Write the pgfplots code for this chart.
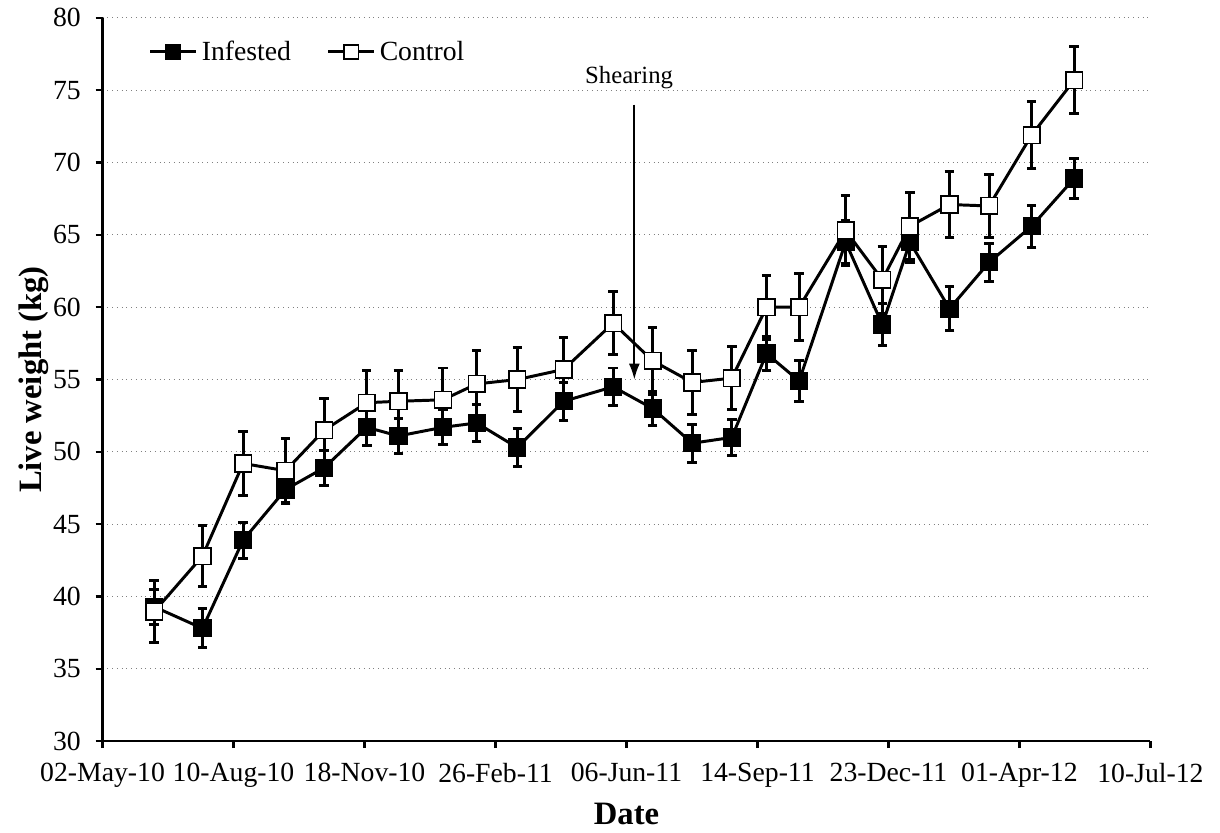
\documentclass[border={6pt 1pt 5pt 1pt}]{standalone}
\usepackage{fontspec}
\setmainfont{Liberation Serif}
\usepackage{pgfplots}
\pgfplotsset{compat=1.18}
\usepackage{pgfplotstable}
\usetikzlibrary{arrows.meta}

\pgfplotstableread{
day inf infe con cone
39.3 39.3 1.2 38.95 2.15
76.3 37.8 1.35 42.8 2.1
107.3 43.9 1.25 49.2 2.2
139.7 47.4 1.0 48.7 2.2
169.2 48.9 1.2 51.5 2.2
201.7 51.7 1.25 53.4 2.2
225.9 51.1 1.2 53.5 2.1
259.9 51.7 1.2 53.6 2.2
285.6 52.0 1.25 54.7 2.3
316.6 50.3 1.3 55.0 2.2
352.0 53.5 1.3 55.7 2.2
389.8 54.5 1.3 58.9 2.2
420.0 53.0 1.2 56.3 2.3
450.2 50.6 1.3 54.8 2.2
480.4 51.0 1.25 55.1 2.2
506.9 56.8 1.2 60.0 2.2
531.8 54.9 1.4 60.0 2.3
567.3 64.5 1.5 65.3 2.4
595.3 58.8 1.45 61.9 2.3
616.4 64.5 1.4 65.6 2.3
646.6 59.9 1.5 67.1 2.3
676.8 63.1 1.3 67.0 2.2
709.3 65.6 1.45 71.9 2.3
741.8 68.9 1.4 75.7 2.3
}\data

\begin{document}
\begin{tikzpicture}
\begin{axis}[
  scale only axis, width=529.5pt, height=365.5pt,
  xmin=0, xmax=800, ymin=30, ymax=80,
  axis lines*=left,
  axis line style={line width=1.25pt},
  xtick={0,100,...,800},
  xticklabels={02-May-10,10-Aug-10,18-Nov-10,26-Feb-11,06-Jun-11,14-Sep-11,23-Dec-11,01-Apr-12,10-Jul-12},
  ytick={30,35,...,80},
  tick align=outside, major tick length=3.5pt,
  tick style={line width=1.25pt, black},
  ymajorgrids, grid style={dotted, gray, line width=0.6pt},
  tick label style={font=\fontsize{14}{16}\selectfont},
  xticklabel style={yshift=-4pt},
  yticklabel style={xshift=-4pt},
  /pgf/number format/assume math mode=true,
  xlabel={Date}, ylabel={Live weight (kg)},
  every axis x label/.style={at={(axis description cs:0.5,-0.1)}, anchor=center,
    font=\fontsize{16.5}{19}\selectfont\bfseries},
  every axis y label/.style={at={(axis description cs:-0.066,0.5)}, rotate=90, anchor=center,
    font=\fontsize{16.5}{19}\selectfont\bfseries},
  legend style={at={(axis description cs:0.038,0.953)}, anchor=west, draw=none, fill=none,
    font=\fontsize{14}{16}\selectfont, legend columns=2,
    /tikz/every even column/.append style={column sep=16pt}},
  legend image code/.code={\draw[mark repeat=2,mark phase=2,mark size=3.6pt] plot coordinates {(0cm,0cm)(0.41cm,0cm)(0.82cm,0cm)};},
]
\addplot[black, line width=1.5pt, mark=square*, mark size=4.2pt,
  mark options={solid, fill=black, draw=black, line width=0.8pt},
  error bars/.cd, y dir=both, y explicit,
  error bar style={line width=1.5pt, black},
  error mark options={rotate=90, mark size=2.4pt, line width=1.5pt, black}]
  table[x=day, y=inf, y error=infe]{\data};
\addlegendentry{Infested}
\addplot[black, line width=1.5pt, mark=square*, mark size=4.2pt,
  mark options={solid, fill=white, draw=black, line width=0.8pt},
  error bars/.cd, y dir=both, y explicit,
  error bar style={line width=1.5pt, black},
  error mark options={rotate=90, mark size=2.4pt, line width=1.5pt, black}]
  table[x=day, y=con, y error=cone]{\data};
\addlegendentry{Control}
\node[font=\fontsize{12.5}{14}\selectfont] at (axis cs:402,75.9) {Shearing};
\draw[line width=1pt, -{Latex[length=8pt,width=5.5pt]}] (axis cs:406,74.0) -- (axis cs:406,55.0);
\end{axis}
\end{tikzpicture}
\end{document}
